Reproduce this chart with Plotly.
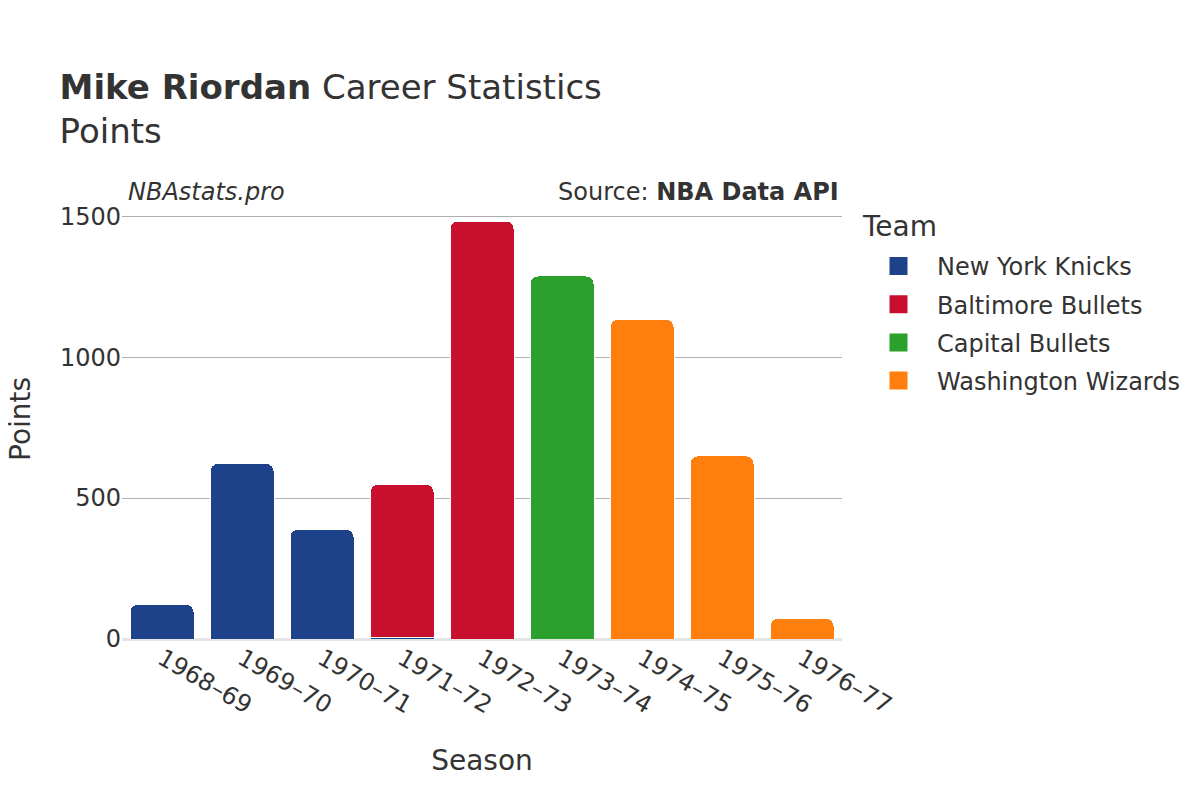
import plotly.graph_objects as go

seasons = ["1968–69", "1969–70", "1970–71", "1971–72", "1972–73", "1973–74", "1974–75", "1975–76", "1976–77"]
teams = ["New York Knicks", "Baltimore Bullets", "Capital Bullets", "Washington Wizards"]
colors = ["#1d428a", "#c8102e", "#2ca02c", "#ff7f0e"]

knicks = [124, 623, 390, 4, None, None, None, None, None]
baltimore = [None, None, None, 545, 1483, None, None, None, None]
capital = [None, None, None, None, None, 1288, None, None, None]
washington = [None, None, None, None, None, None, 1135, 650, 74]

series = [knicks, baltimore, capital, washington]

fig = go.Figure()
for name, vals, col in zip(teams, series, colors):
    fig.add_trace(go.Bar(
        x=seasons, y=vals, name=name, legendgroup=name, showlegend=False,
        marker=dict(color=col, line=dict(color="white", width=1)),
    ))
for name, col in zip(teams, colors):
    fig.add_trace(go.Scatter(
        x=[None], y=[None], mode="markers", name=name, legendgroup=name,
        marker=dict(symbol="square", size=20, color=col, line=dict(color=col, width=2)),
    ))

font_family = "DejaVu Sans"
fig.update_layout(
    width=1200, height=800,
    barmode="stack",
    barcornerradius=8,
    bargap=0.2,
    plot_bgcolor="white", paper_bgcolor="white",
    font=dict(family=font_family, color="#333333", size=20),
    title=dict(
        text="<b>Mike Riordan</b> Career Statistics<br>Points",
        x=0.043, xanchor="left", y=0.886, yanchor="top",
        font=dict(size=34, color="#333333"),
    ),
    margin=dict(l=114, r=366, t=191, b=169),
    xaxis=dict(
        title=dict(text="Season", font=dict(size=28), standoff=31),
        tickangle=30, tickfont=dict(size=24),
        showgrid=False, showline=False,
        automargin=False,
    ),
    yaxis=dict(
        tickfont=dict(size=24),
        gridcolor="#b0b0b0", gridwidth=1,
        zeroline=True, zerolinecolor="#e5e5e5", zerolinewidth=3,
        tickvals=[0, 500, 1000, 1500],
        automargin=False,
    ),
    legend=dict(
        font=dict(size=24),
        traceorder="grouped",
        x=1.025, xanchor="left", y=0.898, yanchor="top",
        itemwidth=67,
        tracegroupgap=4,
    ),
    annotations=[
        dict(text="Team", xref="paper", yref="paper",
             x=1.025, y=0.9386, xanchor="left", yanchor="middle",
             showarrow=False, font=dict(size=28, color="#333333")),
        dict(text="Points", xref="paper", yref="paper",
             x=-0.1417, y=0.5, xanchor="center", yanchor="middle", textangle=-90,
             showarrow=False, font=dict(size=28, color="#333333")),
        dict(text="<i>NBAstats.pro</i>", xref="paper", yref="paper",
             x=0.005, y=0.98, xanchor="left", yanchor="bottom",
             showarrow=False, font=dict(size=24, color="#333333")),
        dict(text="Source: <b>NBA Data API</b>", xref="paper", yref="paper",
             x=0.999, y=0.98, xanchor="right", yanchor="bottom",
             showarrow=False, font=dict(size=24, color="#333333")),
    ],
)

fig.write_html("out.html")
